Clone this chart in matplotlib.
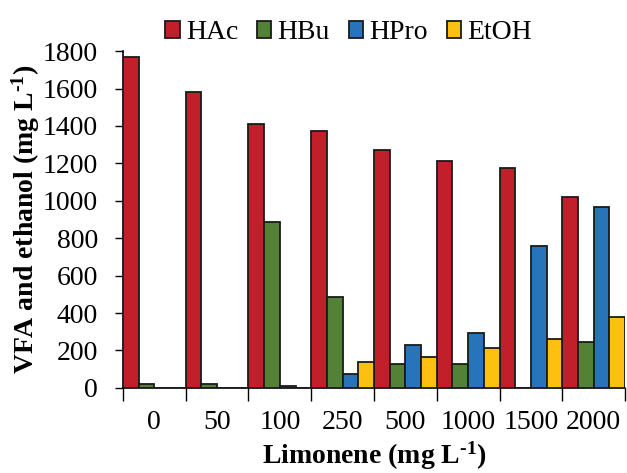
import matplotlib
matplotlib.use("Agg")
import matplotlib.pyplot as plt
import numpy as np

categories = ["0", "50", "100", "250", "500", "1000", "1500", "2000"]
series_names = ["HAc", "HBu", "HPro", "EtOH"]
hac = [1770, 1580, 1410, 1375, 1270, 1210, 1175, 1020]
hbu = [20, 20, 885, 487, 125, 130, 0, 245]
hpro = [0, 0, 12, 75, 230, 292, 758, 965]
etoh = [0, 0, 0, 140, 165, 212, 262, 380]
colors = ["#C1202A", "#538135", "#2874BA", "#FDC010"]

plt.rcParams['font.family'] = ['Liberation Serif', 'DejaVu Serif']
plt.rcParams['mathtext.fontset'] = 'custom'
plt.rcParams['mathtext.rm'] = 'Liberation Serif:bold'
plt.rcParams['mathtext.bf'] = 'Liberation Serif:bold'
plt.rcParams['mathtext.it'] = 'Liberation Serif:italic'

fig = plt.figure(figsize=(6.27, 4.73), dpi=100)
ax = fig.add_axes([0.196, 0.180, 0.801, 0.712])

x = np.arange(len(categories))
w = 0.25
for i, (vals, name, c) in enumerate(zip([hac, hbu, hpro, etoh], series_names, colors)):
    ax.bar(x + (i - 1.5) * w, vals, width=w, color=c, edgecolor="#1a1a1a",
           linewidth=1.3, label=name, zorder=3)

ax.set_xlim(-0.5, len(categories) - 0.5)
ax.set_ylim(0, 1800)
ax.set_yticks(np.arange(0, 1801, 200))
ax.tick_params(axis='y', labelsize=20, direction='out', length=6, width=1, pad=12)
ax.set_xticks(np.arange(-0.5, len(categories), 1.0))
ax.set_xticklabels([])
ax.set_xticks(x, minor=True)
ax.set_xticklabels(categories, minor=True, fontsize=20)
ax.tick_params(axis='x', which='major', direction='out', length=9, width=1)
ax.tick_params(axis='x', which='minor', length=0, pad=16)

for s in ['top', 'right']:
    ax.spines[s].set_visible(False)
ax.spines['left'].set_linewidth(1.2)
ax.spines['bottom'].set_linewidth(1.2)

ax.set_ylabel("VFA and ethanol (mg L$^{\\text{-}1}$)", fontsize=20, fontweight='bold', labelpad=0.5)
ax.set_xlabel("Limonene (mg L$^{\\text{-}1}$)", fontsize=20, fontweight='bold', labelpad=3.5)

leg = fig.legend(loc='upper center', bbox_to_anchor=(0.556, 1.01), ncol=4, frameon=False,
                 fontsize=20, handlelength=0.52, handleheight=0.52, handletextpad=0.22,
                 columnspacing=0.68)

fig.savefig("out.png", dpi=100)
